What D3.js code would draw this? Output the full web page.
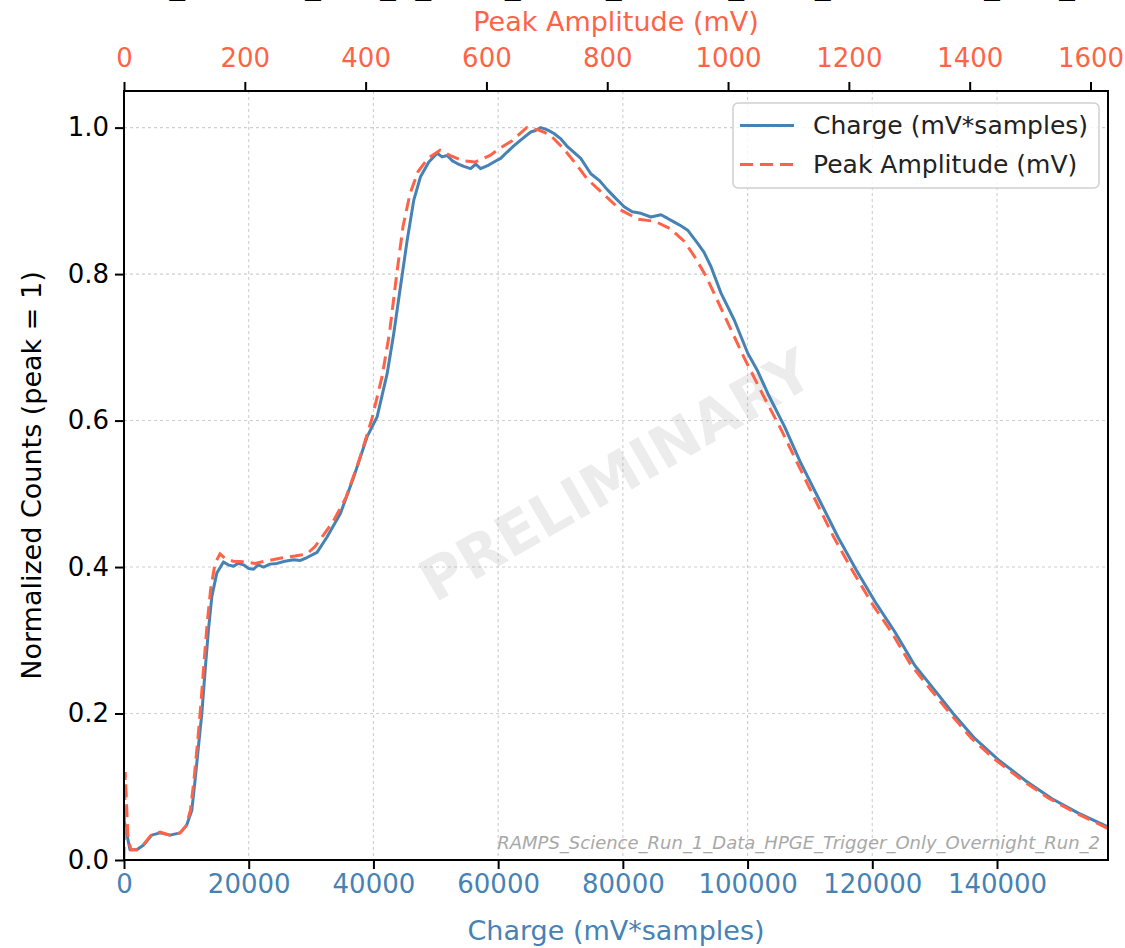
<!DOCTYPE html>
<html>
<head>
<meta charset="utf-8">
<script src="https://cdn.jsdelivr.net/npm/d3@7"></script>
<style>
  html, body { margin: 0; padding: 0; background: #ffffff; }
  svg { display: block; }
  text { font-family: "DejaVu Sans", sans-serif; }
</style>
</head>
<body>
<svg id="chart" width="1125" height="948"></svg>
<script>
// ---------------- DATA ----------------
const chargeTicks = [0, 20000, 40000, 60000, 80000, 100000, 120000, 140000];
const ampTicks = [0, 200, 400, 600, 800, 1000, 1200, 1400, 1600];
const yTicks = [0.0, 0.2, 0.4, 0.6, 0.8, 1.0];

// Charge spectrum (mV*samples) -> normalized counts
const chargeX = [0, 960, 2040, 3100, 4450, 5780, 7390, 9000, 10070, 10880, 11400, 11940, 12480, 13010, 13540, 14090, 14890, 15950, 16700, 17560, 18300, 19160, 20000, 20770, 21500, 22380, 23400, 24530, 25800, 27200, 28300, 29350, 30960, 32560, 34700, 36840, 38990, 40590, 42200, 43260, 44340, 45410, 46470, 47550, 48880, 50230, 51000, 51840, 52600, 53440, 54500, 55580, 56400, 57190, 58300, 59320, 60400, 61480, 62500, 63610, 65220, 66000, 66830, 67900, 68960, 70000, 71120, 73250, 74860, 76200, 77540, 78900, 80210, 81500, 82890, 84500, 86100, 87200, 88240, 89300, 90390, 92000, 93000, 94140, 95740, 97880, 100030, 101600, 103240, 105910, 108590, 112080, 114490, 117430, 120640, 123580, 126790, 130000, 132960, 136430, 140190, 144460, 148750, 153040, 157860];
const chargeY = [0.055, 0.014, 0.014, 0.020, 0.034, 0.037, 0.034, 0.037, 0.048, 0.068, 0.109, 0.155, 0.200, 0.259, 0.314, 0.360, 0.392, 0.407, 0.403, 0.401, 0.405, 0.403, 0.398, 0.397, 0.403, 0.400, 0.404, 0.405, 0.408, 0.410, 0.409, 0.413, 0.420, 0.441, 0.473, 0.523, 0.578, 0.605, 0.664, 0.719, 0.783, 0.846, 0.901, 0.933, 0.953, 0.965, 0.960, 0.962, 0.955, 0.951, 0.947, 0.944, 0.950, 0.944, 0.948, 0.953, 0.958, 0.967, 0.975, 0.983, 0.994, 0.996, 1.000, 0.997, 0.992, 0.985, 0.974, 0.958, 0.937, 0.928, 0.915, 0.903, 0.892, 0.885, 0.883, 0.878, 0.881, 0.876, 0.871, 0.866, 0.860, 0.842, 0.830, 0.810, 0.774, 0.737, 0.692, 0.668, 0.637, 0.592, 0.541, 0.482, 0.441, 0.396, 0.350, 0.312, 0.266, 0.232, 0.200, 0.166, 0.137, 0.109, 0.084, 0.064, 0.045];

// Peak amplitude spectrum (mV) -> normalized counts
const ampX = [0, 2, 4, 6.6, 11.6, 21.5, 32, 45.9, 59.6, 76.2, 92.7, 102.6, 110, 115.9, 121.7, 127, 132.5, 137.9, 143.5, 150.7, 158.9, 167.2, 180.5, 200.3, 216.9, 233.4, 258.3, 283.1, 303, 316.2, 329.5, 346, 367.5, 389, 410.6, 427.2, 439.6, 451.5, 461.9, 473.5, 486.8, 503.3, 523.2, 539.7, 559.6, 581.1, 606, 622.5, 642.4, 666.7, 685.4, 705.3, 726.8, 746.7, 766.6, 793, 821.2, 851, 879.1, 904, 927.2, 943.7, 963.6, 981.8, 1003.3, 1026.5, 1059.6, 1087.7, 1115.9, 1150.7, 1175.5, 1205.3, 1238.4, 1269.9, 1303, 1336.1, 1367.5, 1403.1, 1442.1, 1486.8, 1531.5, 1576.2, 1629];
const ampY = [0.0, 0.120, 0.080, 0.030, 0.014, 0.014, 0.021, 0.035, 0.038, 0.034, 0.037, 0.046, 0.068, 0.110, 0.160, 0.210, 0.270, 0.325, 0.370, 0.405, 0.418, 0.412, 0.408, 0.407, 0.405, 0.408, 0.412, 0.415, 0.418, 0.428, 0.443, 0.462, 0.495, 0.545, 0.603, 0.660, 0.720, 0.800, 0.865, 0.910, 0.940, 0.958, 0.969, 0.962, 0.955, 0.953, 0.962, 0.972, 0.982, 1.000, 0.997, 0.990, 0.972, 0.952, 0.930, 0.910, 0.888, 0.875, 0.872, 0.862, 0.845, 0.825, 0.797, 0.765, 0.727, 0.686, 0.632, 0.588, 0.540, 0.481, 0.440, 0.396, 0.350, 0.312, 0.266, 0.232, 0.200, 0.166, 0.137, 0.109, 0.084, 0.064, 0.043];

const titleText = "RAMPS_Science_Run_1_Data_HPGE_Trigger_Only_Overnight_Run_2";
const sourceText = "RAMPS_Science_Run_1_Data_HPGE_Trigger_Only_Overnight_Run_2";

// ---------------- LAYOUT ----------------
const PL = 124, PR = 1108, PT = 91, PB = 860;
const BLUE = "#4682b4", RED = "#ff6347";
const svg = d3.select("#chart");

const x = d3.scaleLinear().domain([0, 157800]).range([PL, PR]);
const x2 = d3.scaleLinear().domain([0, 1629]).range([PL, PR]);
const y = d3.scaleLinear().domain([0, 1.05]).range([PB, PT]);

svg.append("defs").append("clipPath").attr("id", "clip")
  .append("rect").attr("x", PL).attr("y", PT).attr("width", PR - PL).attr("height", PB - PT);

// title (cut off at top of the figure, as in the original)
svg.append("text").attr("x", 63).attr("y", -6)
  .attr("font-size", 31).attr("fill", "#000").text(titleText);

// grid
const grid = svg.append("g");
grid.selectAll("line.gx").data(chargeTicks).join("line")
  .attr("x1", d => x(d)).attr("x2", d => x(d)).attr("y1", PT).attr("y2", PB)
  .attr("stroke", "#cfcfcf").attr("stroke-width", 1.1).attr("stroke-dasharray", "3,3");
grid.selectAll("line.gy").data(yTicks).join("line")
  .attr("x1", PL).attr("x2", PR).attr("y1", d => y(d)).attr("y2", d => y(d))
  .attr("stroke", "#cfcfcf").attr("stroke-width", 1.1).attr("stroke-dasharray", "3,3");

// watermark
svg.append("text")
  .attr("transform", `translate(${(PL + PR) / 2},${(PT + PB) / 2}) rotate(-30)`)
  .attr("text-anchor", "middle").attr("dominant-baseline", "central")
  .attr("font-size", 58).attr("font-weight", "bold")
  .attr("fill", "#808080").attr("fill-opacity", 0.15)
  .text("PRELIMINARY");

// lines
const plot = svg.append("g").attr("clip-path", "url(#clip)");
const lineC = d3.line().x((d, i) => x(chargeX[i])).y(d => y(d));
const lineA = d3.line().x((d, i) => x2(ampX[i])).y(d => y(d));
plot.append("path").attr("d", lineC(chargeY)).attr("fill", "none")
  .attr("stroke", BLUE).attr("stroke-width", 3).attr("stroke-linejoin", "round");
plot.append("path").attr("d", lineA(ampY)).attr("fill", "none")
  .attr("stroke", RED).attr("stroke-width", 3).attr("stroke-dasharray", "13,7");

// source text
svg.append("text").attr("x", 1100).attr("y", 849).attr("text-anchor", "end")
  .attr("font-size", 18).attr("font-style", "italic").attr("fill", "#a8a8a8")
  .text(sourceText);

// axes
const fs = 26;
const axB = svg.append("g").attr("transform", `translate(0,${PB})`)
  .call(d3.axisBottom(x).tickValues(chargeTicks).tickSize(9).tickPadding(6).tickFormat(d3.format("d")));
const axT = svg.append("g").attr("transform", `translate(0,${PT})`)
  .call(d3.axisTop(x2).tickValues(ampTicks).tickSize(9).tickPadding(15).tickFormat(d3.format("d")));
const axL = svg.append("g").attr("transform", `translate(${PL},0)`)
  .call(d3.axisLeft(y).tickValues(yTicks).tickSize(9).tickPadding(6).tickFormat(d3.format(".1f")));
[axB, axT, axL].forEach(g => {
  g.select(".domain").remove();
  g.selectAll(".tick line").attr("stroke", "#000").attr("stroke-width", 2);
  g.selectAll(".tick text").attr("font-size", fs).attr("font-family", "DejaVu Sans");
});
axB.selectAll(".tick text").attr("fill", BLUE);
axT.selectAll(".tick text").attr("fill", RED);
axL.selectAll(".tick text").attr("fill", "#000");

// frame
svg.append("rect").attr("x", PL).attr("y", PT).attr("width", PR - PL).attr("height", PB - PT)
  .attr("fill", "none").attr("stroke", "#000").attr("stroke-width", 2);

// axis labels
svg.append("text").attr("x", (PL + PR) / 2).attr("y", 940).attr("text-anchor", "middle")
  .attr("font-size", 27).attr("fill", BLUE).text("Charge (mV*samples)");
svg.append("text").attr("x", (PL + PR) / 2).attr("y", 31).attr("text-anchor", "middle")
  .attr("font-size", 27).attr("fill", RED).text("Peak Amplitude (mV)");
svg.append("text").attr("transform", `translate(41,${(PT + PB) / 2}) rotate(-90)`)
  .attr("text-anchor", "middle").attr("font-size", 27).attr("fill", "#000")
  .text("Normalized Counts (peak = 1)");

// legend
const lg = svg.append("g");
lg.append("rect").attr("x", 733).attr("y", 103).attr("width", 366).attr("height", 85)
  .attr("rx", 5).attr("fill", "#fff").attr("fill-opacity", 0.8)
  .attr("stroke", "#d0d0d0").attr("stroke-width", 1.5);
const legendItems = [
  { label: "Charge (mV*samples)", color: BLUE, dash: null, yy: 125.5 },
  { label: "Peak Amplitude (mV)", color: RED, dash: "13,7", yy: 164.5 }
];
legendItems.forEach(it => {
  lg.append("line").attr("x1", 740).attr("x2", 794).attr("y1", it.yy).attr("y2", it.yy)
    .attr("stroke", it.color).attr("stroke-width", 3).attr("stroke-dasharray", it.dash);
  lg.append("text").attr("x", 813).attr("y", it.yy).attr("dominant-baseline", "central")
    .attr("font-size", 25).attr("fill", "#222").text(it.label);
});
</script>
</body>
</html>
